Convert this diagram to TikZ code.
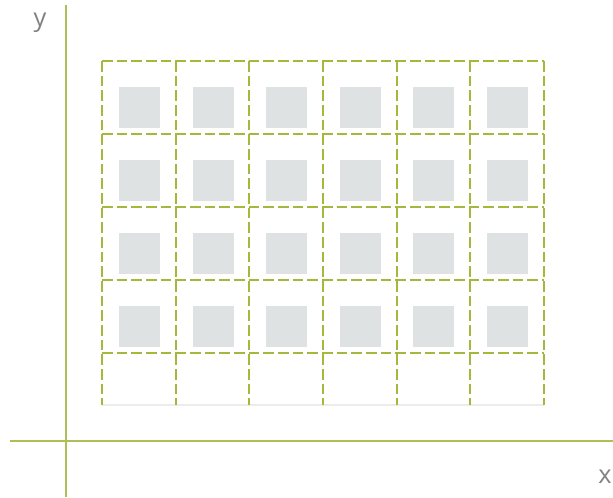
\documentclass[tikz,border=0pt]{standalone}
\usepackage{fontspec}
\setmainfont{Open Sans}
\definecolor{gridgreen}{RGB}{166,184,60}
\definecolor{axisgreen}{RGB}{176,190,90}
\definecolor{sqgray}{RGB}{223,226,227}
\definecolor{lblgray}{RGB}{130,130,130}
\definecolor{edgegray}{RGB}{236,236,236}
\begin{document}
\begin{tikzpicture}[x=0.75pt,y=-0.75pt,
  gridline/.style={gridgreen,line width=1.1pt,dash pattern=on 8pt off 3pt},
  axisline/.style={axisgreen,line width=1.3pt},
  sq/.style={fill=sqgray,draw=none,minimum width=30.75pt,minimum height=30.75pt,inner sep=0pt,outer sep=0pt},
  lbl/.style={text=lblgray,font=\fontsize{19}{22}\selectfont,inner sep=0pt}]
\useasboundingbox (0,0) rectangle (613,497);
% axes
\draw[axisline] (66,5) -- (66,497);
\draw[axisline] (10,441) -- (613,441);
\node[lbl] (ylab) at (40,23) {y};
\node[lbl] (xlab) at (605,477) {x};
% squares
\foreach \cx [count=\i] in {139.5,213,286.5,360,433.5,507}{
  \foreach \cy [count=\j] in {107.5,180.5,253.5,326.5}{
    \node[sq] (sq-\i-\j) at (\cx,\cy) {};
  }
}
% bottom edge
\draw[edgegray,line width=0.8pt] (102,405) -- (544,405);
% vertical grid lines
\foreach \x in {102,176,249,323,397,470,544}{
  \draw[gridline] (\x,61) -- (\x,405);
}
% horizontal grid lines
\foreach \y in {61,134,207,280,353}{
  \draw[gridline] (102,\y) -- (544,\y);
}
\end{tikzpicture}
\end{document}
